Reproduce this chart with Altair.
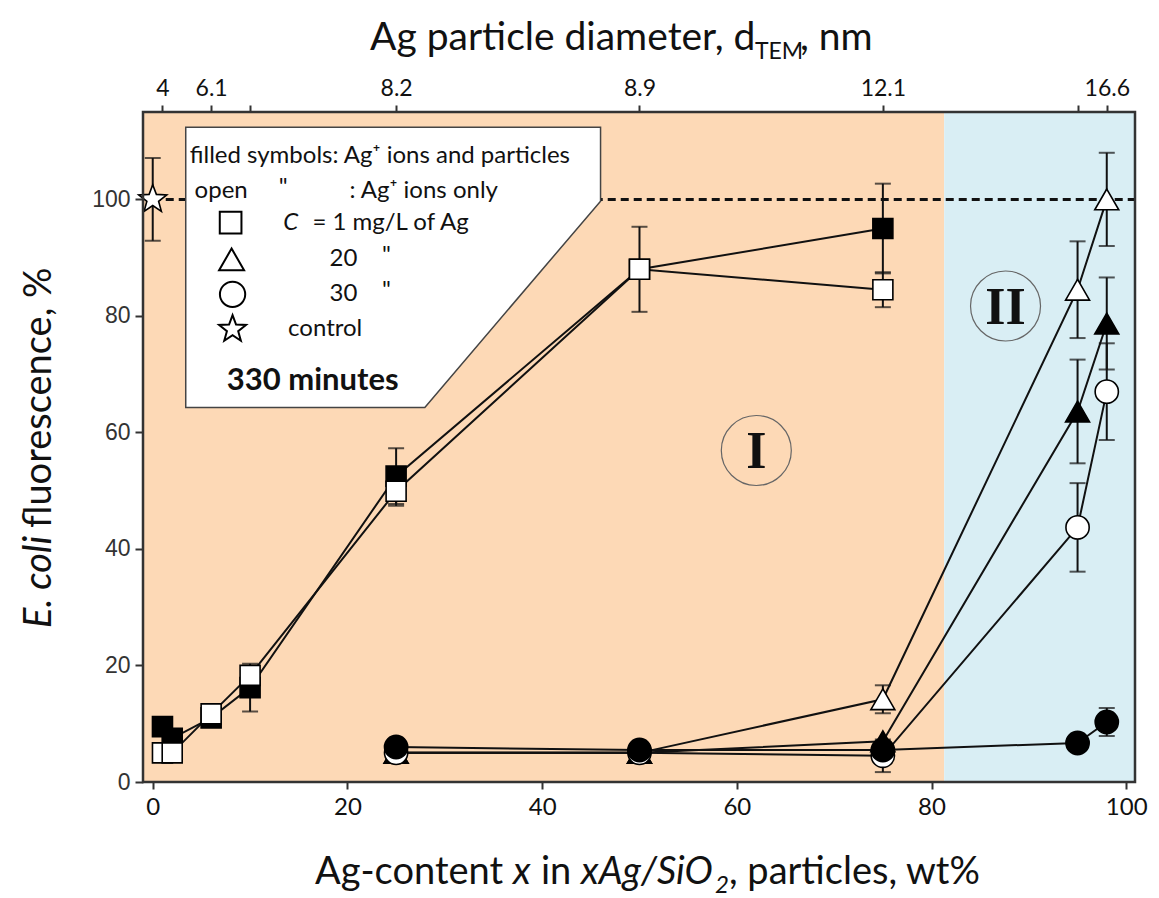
import altair as alt
import pandas as pd

# ---------------- data ----------------
X_MIN, X_MAX = -1.0, 100.9
Y_MIN, Y_MAX = 0.0, 115.0
W, H = 992, 670

# C = 1 mg/L (squares)
sq_x = [1, 2, 6, 10, 25, 50, 75]
sq_filled_y = [9.5, 7.5, 11.0, 16.2, 52.5, 88.0, 95.0]
sq_filled_err = [0, 0, 0, 4.1, 4.8, 0, 7.7]
sq_open_y = [5.0, 5.0, 11.7, 18.3, 49.9, 88.0, 84.5]
sq_open_err = [0, 0, 0, 0, 2.5, 7.3, 3.0]

# C = 20 and 30 mg/L (triangles, circles)
tc_x = [25, 50, 75, 95, 98]
tri_filled_y = [5.0, 5.0, 7.0, 63.6, 78.7]
tri_filled_err = [0, 0, 0, 8.9, 7.9]
tri_open_y = [5.0, 5.0, 14.2, 84.5, 100.0]
tri_open_err = [0, 0, 2.4, 8.3, 8.0]
circ_open_y = [5.0, 5.0, 4.5, 43.7, 67.0]
circ_open_err = [0, 0, 2.8, 7.6, 8.3]
circ_filled_y = [6.0, 5.5, 5.5, 6.7, 10.3]
circ_filled_err = [0, 0, 0, 0, 2.4]

# control
ctrl_x = [0]
ctrl_y = [100.0]
ctrl_err = [7.1]

# axes
bottom_ticks = [0, 20, 40, 60, 80, 100]
left_ticks = [0, 20, 40, 60, 80, 100]
top_ticks = [1, 6, 10, 25, 50, 75, 95, 98]
top_labels = ["4", "6.1", "", "8.2", "8.9", "12.1", "", "16.6"]

# regions I / II
region_x = [X_MIN, 81.3]
region_x2 = [81.3, X_MAX]
region_fill = ["#FDD9B6", "#D9EEF4"]
region_names = ["I", "II"]
region_label_x = [62.0, 87.6]
region_label_y = [56.9, 81.7]

INK = "#111111"
STAR = ("M0,-1L0.247,-0.34L0.951,-0.309L0.399,0.13L0.588,0.809L0,0.42"
        "L-0.588,0.809L-0.399,0.13L-0.951,-0.309L-0.247,-0.34Z")

# ---------------- tables ----------------
rows = []
def add(series, xs, ys, errs, shape, fill, size):
    for xv, yv, ev in zip(xs, ys, errs):
        rows.append(dict(series=series, x=xv, y=yv, err=ev, shape=shape,
                         fill=fill, size=size))

add("sq_filled", sq_x, sq_filled_y, sq_filled_err, "square", "black", 400)
add("sq_open", sq_x, sq_open_y, sq_open_err, "square", "white", 400)
add("tri_open", tc_x, tri_open_y, tri_open_err, "triangle-up", "white", 576)
add("tri_filled", tc_x, tri_filled_y, tri_filled_err, "triangle-up", "black", 576)
add("circ_open", tc_x, circ_open_y, circ_open_err, "circle", "white", 540)
add("circ_filled", tc_x, circ_filled_y, circ_filled_err, "circle", "black", 540)
add("control", ctrl_x, ctrl_y, ctrl_err, STAR, "white", 866)
df = pd.DataFrame(rows)
df["order"] = range(len(df))

err_df = df[df["err"] > 0].copy()
err_df["lo"] = err_df["y"] - err_df["err"]
err_df["hi"] = err_df["y"] + err_df["err"]
cap_df = pd.concat([
    err_df[["x"]].assign(y=err_df["lo"]),
    err_df[["x"]].assign(y=err_df["hi"]),
])

xs = alt.Scale(domain=[X_MIN, X_MAX], nice=False, zero=False)
ys = alt.Scale(domain=[Y_MIN, Y_MAX], nice=False, zero=False)

def X(field="x", **kw):
    return alt.X(f"{field}:Q", scale=xs, axis=None, **kw)

def Y(field="y", **kw):
    return alt.Y(f"{field}:Q", scale=ys, axis=None, **kw)

one = pd.DataFrame({"a": [0]})

# ---------------- layers ----------------
bg = alt.Chart(pd.DataFrame({"x": region_x, "x2": region_x2, "fill": region_fill,
                             "y": [Y_MIN] * 2, "y2": [Y_MAX] * 2})).mark_rect().encode(
    x=alt.X("x:Q", scale=xs, axis=alt.Axis(
        orient="bottom", values=bottom_ticks, title=None, domain=False, grid=False,
        tickSize=7, tickWidth=2, tickColor="#333", labelFont="Lato", labelFontSize=24,
        labelColor=INK, labelPadding=6)),
    x2="x2:Q",
    y=alt.Y("y:Q", scale=ys, axis=alt.Axis(
        orient="left", values=left_ticks, title=None, domain=False, grid=False,
        tickSize=8, tickWidth=2, tickColor="#333", labelFont="Liberation Sans",
        labelFontSize=23, labelColor="#333", labelPadding=5)),
    y2="y2:Q",
    color=alt.Color("fill:N", scale=None),
)

label_expr = " : ".join(
    f"datum.value == {v} ? '{l}'" for v, l in zip(top_ticks, top_labels)) + " : ''"

dashed = alt.Chart(pd.DataFrame({"x": [0], "x2": [X_MAX], "y": [100]})).mark_rule(
    color=INK, strokeWidth=3, strokeDash=[8, 5]).encode(
    x=alt.X("x:Q", scale=xs, axis=alt.Axis(
        orient="top", values=top_ticks, labelExpr=label_expr, title=None,
        domain=False, grid=False, tickSize=7, tickWidth=2, tickColor="#333",
        labelFont="Lato", labelFontSize=23, labelColor=INK, labelPadding=5)),
    x2="x2:Q",
    y=Y(),
)

lines = alt.Chart(df).mark_line(color=INK, strokeWidth=2).encode(
    x=X(), y=Y(), detail="series:N", order="x:Q")

err_rules = alt.Chart(err_df).mark_rule(color=INK, strokeWidth=2).encode(
    x=X(), y=Y("lo"), y2="hi:Q")
err_caps = alt.Chart(cap_df).mark_tick(
    color=INK, orient="horizontal", size=16, thickness=2).encode(x=X(), y=Y())

points = alt.Chart(df).mark_point(
    filled=True, stroke="black", strokeWidth=1.6, opacity=1).encode(
    x=X(), y=Y(),
    shape=alt.Shape("shape:N", scale=None),
    color=alt.Color("fill:N", scale=None),
    size=alt.Size("size:Q", scale=None),
    order="order:Q",
)

# region labels I / II
reg_df = pd.DataFrame({"x": region_label_x, "y": region_label_y, "t": region_names})
reg_circles = alt.Chart(reg_df).mark_point(
    shape="circle", size=4900, filled=False, stroke="#666", strokeWidth=1.2,
    opacity=1).encode(x=X(), y=Y())
reg_text = alt.Chart(reg_df).mark_text(
    font="Liberation Serif", fontWeight="bold", fontSize=52, color=INK,
    baseline="middle", align="center", dy=2).encode(x=X(), y=Y(), text="t:N")

# legend box
legend_box = alt.Chart(pd.DataFrame({
    "x": [3.39, 27.95, 46.0], "y": [112.4, 112.4, 112.4], "y2": [64.3, 64.3, 99.7]
})).mark_area(fill="white", stroke="#444", strokeWidth=1.5, opacity=1).encode(
    x=X(), y=Y(), y2="y2:Q")

legend_sym = alt.Chart(pd.DataFrame({
    "x": [8.0, 8.1, 8.2, 8.2], "y": [96.0, 89.7, 83.7, 77.7],
    "shape": ["square", "triangle-up", "circle", STAR],
    "size": [470, 625, 640, 800],
})).mark_point(filled=True, fill="white", stroke="black", strokeWidth=2,
               opacity=1).encode(
    x=X(), y=Y(), shape=alt.Shape("shape:N", scale=None),
    size=alt.Size("size:Q", scale=None))

def dtext(s, x, y, size=24, align="left", style="normal", weight="normal"):
    return alt.Chart(pd.DataFrame({"x": [x], "y": [y]})).mark_text(
        text=s, font="Lato", fontSize=size, align=align, baseline="middle",
        fontStyle=style, fontWeight=weight, color=INK).encode(x=X(), y=Y())

legend_txt = [
    dtext("filled symbols: Ag\u207a ions and particles", 3.8, 107.4),
    dtext("open", 4.3, 101.4),
    dtext('"', 13.4, 101.9, align="center"),
    dtext(": Ag\u207a  ions only", 20.2, 101.4),
    dtext("C", 13.4, 96.0, style="italic"),
    dtext("= 1 mg/L of Ag", 16.4, 96.0),
    dtext("20", 19.6, 89.7, align="center"),
    dtext('"', 24.0, 90.2, align="center"),
    dtext("30", 19.6, 83.7, align="center"),
    dtext('"', 24.0, 84.2, align="center"),
    dtext("control", 13.9, 77.7),
    dtext("330 minutes", 7.6, 68.9, size=31, weight="bold"),
]

# axis titles with mixed styles (pixel positions relative to plot origin)
def ptext(s, px, py, size=38, style="normal", angle=0, align="left",
          baseline="alphabetic"):
    props = dict(text=s, font="Lato", fontSize=size, fontStyle=style,
                 align=align, baseline=baseline, color=INK)
    if angle:
        props["angle"] = angle
    return alt.Chart(one).mark_text(**props).encode(
        x=alt.value(px), y=alt.value(py))

titles = [
    # top
    ptext("Ag particle diameter, d", 227, -62, size=39),
    ptext("TEM", 612, -53, size=23),
    ptext(", nm", 657, -62, size=39),
    # bottom
    ptext("Ag-content", 172, 772),
    ptext("x", 370, 772, style="italic"),
    ptext("in", 398, 772),
    ptext("xAg/SiO", 438, 772, style="italic"),
    ptext("2", 572, 781, size=24, style="italic"),
    ptext(", particles, wt%", 586, 772),
    # left (rotated)
    ptext("E. coli", -103, 516, style="italic", angle=270, baseline="middle"),
    ptext("fluorescence, %", -103, 416, angle=270, baseline="middle"),
]

frame = alt.Chart(pd.DataFrame({"x": [X_MIN], "x2": [X_MAX], "y": [Y_MIN],
                                "y2": [Y_MAX]})).mark_rect(
    fillOpacity=0, stroke="#333", strokeWidth=2.5).encode(
    x=X(), x2="x2:Q", y=Y(), y2="y2:Q")

chart = alt.layer(
    bg, dashed, lines, err_rules, err_caps, points,
    reg_circles, reg_text, legend_box, legend_sym, *legend_txt, *titles, frame,
).resolve_axis(x="independent", y="independent").properties(
    width=W, height=H, autosize="none",
    padding={"left": 143, "top": 112, "right": 24, "bottom": 116},
).configure_view(stroke=None)

chart.save("out.html", embed_options={"renderer": "svg", "actions": False})
